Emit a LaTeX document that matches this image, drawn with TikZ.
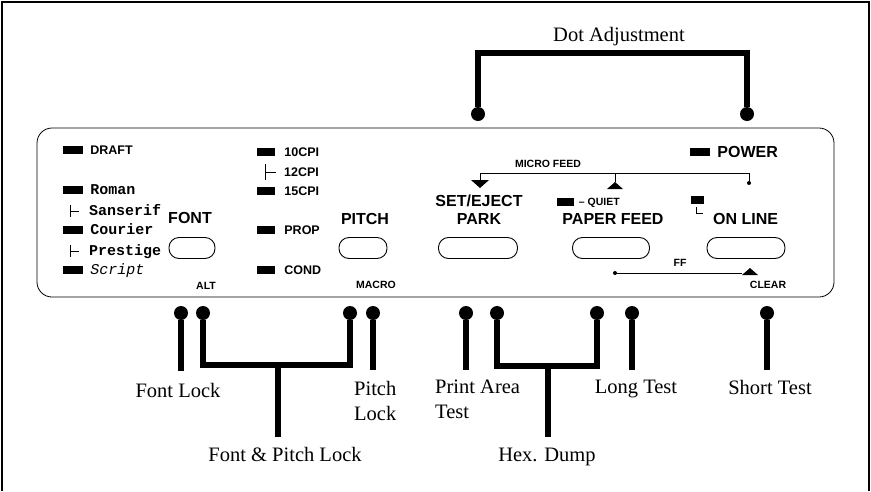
\documentclass[tikz,border=0pt]{standalone}
\usepackage{fontspec}
\setmainfont{Liberation Serif}
\setsansfont{Liberation Sans}
\setmonofont{Liberation Mono}
\usetikzlibrary{positioning}

\begin{document}
\begin{tikzpicture}[x=1pt, y=-1pt,
  led/.style={fill=black, inner sep=0pt, minimum width=20pt, minimum height=8.5pt},
  btn/.style={draw, line width=0.9pt, rounded corners=10pt, inner sep=0pt, minimum height=21pt},
  key/.style={font=\sffamily\bfseries\fontsize{16}{16}\selectfont, inner sep=0pt, text height=11.5pt, text depth=0pt},
  ledtxt/.style={font=\sffamily\bfseries\fontsize{12.5}{12.5}\selectfont, inner sep=0pt, text height=9pt, text depth=0pt},
  typtxt/.style={font=\ttfamily\bfseries\fontsize{15}{15}\selectfont, inner sep=0pt, text height=8.8pt, text depth=0pt},
  tag/.style={font=\sffamily\bfseries\fontsize{10.5}{10.5}\selectfont, inner sep=0pt, text height=7.5pt, text depth=0pt},
  call/.style={font=\rmfamily\fontsize{20.5}{25}\selectfont, inner sep=0pt},
  pin/.style={circle, fill=black, inner sep=0pt, minimum size=14pt},
  stem/.style={line width=6.5pt, line join=miter}]
  \useasboundingbox (0,0) rectangle (871,491);
  \draw[line width=1.3pt] (2,491) -- (2,2) -- (869,2) -- (869,491);

  % panel
  \draw[line width=0.8pt, rounded corners=15pt] (37,128) rectangle (834,297);

  % font keys
  \node[led] (draft) at (73,150) {};
  \node[ledtxt, right=7pt of draft] (draftt) {DRAFT};
  \node[led] (roman) at (73,190) {};
  \node[typtxt, right=7pt of roman] (romant) {Roman};
  \draw (70,205) -- (70,217) (70,211) -- (79,211);
  \node[typtxt, anchor=west] (sanst) at (89,211) {Sanserif};
  \node[led] (courier) at (73,230) {};
  \node[typtxt, right=7pt of courier] (couriert) {Courier};
  \draw (70,245) -- (70,257) (70,251) -- (79,251);
  \node[typtxt, anchor=west] (prestt) at (89,251) {Prestige};
  \node[led] (script) at (73,270) {};
  \node[typtxt, right=7pt of script, font=\ttfamily\itshape\fontsize{15}{15}\selectfont] (scriptt) {Script};
  \node[key] (fontk) at (190,218) {FONT};
  \node[btn, minimum width=46pt] (fontb) at (192,248) {};
  \node[tag] (alt) at (206,286) {ALT};

  % pitch keys
  \node[led, minimum width=18pt] (cpia) at (266,152) {};
  \node[ledtxt, right=9pt of cpia] (cpiat) {10CPI};
  \draw (265,164) -- (265,180) (265,172) -- (276,172);
  \node[ledtxt, anchor=west] (cpibt) at (284,172) {12CPI};
  \node[led, minimum width=18pt] (cpic) at (266,191) {};
  \node[ledtxt, right=9pt of cpic] (cpict) {15CPI};
  \node[led, minimum width=18pt] (prop) at (266,230) {};
  \node[ledtxt, right=9pt of prop] (propt) {PROP};
  \node[led, minimum width=18pt] (cond) at (266,270) {};
  \node[ledtxt, right=9pt of cond] (condt) {COND};
  \node[key] (pitchk) at (365,219) {PITCH};
  \node[btn, minimum width=48pt] (pitchb) at (363,248) {};
  \node[tag] (macro) at (376,285) {MACRO};

  % set/eject
  \node[key] (setk) at (479,201) {SET/EJECT};
  \node[key, below=6pt of setk] (parkk) {PARK};
  \node[btn, minimum width=79pt] (setb) at (478,248) {};

  % paper feed
  \node[led, minimum width=17pt] (quiet) at (565,202) {};
  \node[tag, right=5pt of quiet] (quiett) {-- QUIET};
  \node[key] (paperk) at (613,219) {PAPER FEED};
  \node[btn, minimum width=77pt] (paperb) at (611,248) {};

  % on line
  \node[led] (power) at (700,152) {};
  \node[key, right=7pt of power] (powert) {POWER};
  \node[led, minimum width=13pt] (online) at (697,200) {};
  \draw (696,207) -- (696,213) -- (703,213);
  \node[key, anchor=west] (onlinek) at (713,219) {ON LINE};
  \node[btn, minimum width=78pt] (onlineb) at (746,248) {};

  % micro feed
  \coordinate (mfl) at (480,173);
  \coordinate (mfm) at (615,173);
  \coordinate (mfr) at (749,173);
  \draw (mfl) -- (mfr);
  \node[tag] (mft) at (548,164) {MICRO FEED};
  \draw (mfl) -- ++(0,7);
  \fill (mfl) ++(-9,7) -- ++(18,0) -- ++(-9,8) -- cycle;
  \draw (mfm) -- ++(0,9);
  \fill (mfm) ++(0,9) -- ++(8,7) -- ++(-16,0) -- cycle;
  \draw (mfr) -- ++(0,10);
  \fill (mfr) ++(0,10) circle (2pt);

  % form feed
  \coordinate (ffl) at (615,273);
  \coordinate (ffr) at (742,273);
  \fill (ffl) circle (2pt);
  \draw (ffl) -- (ffr);
  \fill (ffr) ++(0,2) -- ++(16,0) -- ++(-8,-7) -- cycle;
  \node[tag] (fft) at (680,263) {FF};
  \node[tag] (clear) at (768,285) {CLEAR};

  % dot adjustment
  \node[pin] (da1) at (478,114) {};
  \node[pin] (da2) at (747,114) {};
  \coordinate (daj) at (612,53);
  \draw[stem] (da1) |- (daj) -| (da2);
  \node[call, anchor=north] (dat) at (619,27) {Dot Adjustment};

  % lower pins
  \node[pin] (fl) at (181,313) {};
  \node[pin] (fp1) at (203,313) {};
  \node[pin] (fp2) at (350,313) {};
  \node[pin] (pl) at (373,313) {};
  \node[pin] (pa) at (466,313) {};
  \node[pin] (hd1) at (497,313) {};
  \node[pin] (hd2) at (597,313) {};
  \node[pin] (lt) at (632,313) {};
  \node[pin] (st) at (767,313) {};

  \node[call, anchor=north] (flt) at (178,383) {Font Lock};
  \node[call, anchor=north west, align=left] (plt) at (354,381) {Pitch\\Lock};
  \node[call, anchor=north] (fplt) at (285,447) {Font \& Pitch Lock};
  \node[call, anchor=north west, align=left] (pat) at (435,380) {Print Area\\Test};
  \node[call, anchor=north] (ltt) at (636,380) {Long Test};
  \node[call, anchor=north] (stt) at (770,380) {Short Test};
  \node[call, anchor=north] (hdt) at (547,448) {Hex. Dump};

  \draw[stem, shorten >=12pt] (fl) -- (fl |- flt.north);
  \draw[stem, shorten >=11pt] (pl) -- (pl |- plt.north);
  \draw[stem, shorten >=10pt] (pa) -- (pa |- pat.north);
  \draw[stem, shorten >=10pt] (lt) -- (lt |- ltt.north);
  \draw[stem, shorten >=10pt] (st) -- (st |- stt.north);

  \coordinate (fpj) at (278,365);
  \draw[stem] (fp1) |- (fpj) -| (fp2);
  \draw[stem, shorten >=10pt] (fpj) -- (fpj |- fplt.north);
  \coordinate (hdj) at (548,366);
  \draw[stem] (hd1) |- (hdj) -| (hd2);
  \draw[stem, shorten >=11pt] (hdj) -- (hdj |- hdt.north);
\end{tikzpicture}
\end{document}
